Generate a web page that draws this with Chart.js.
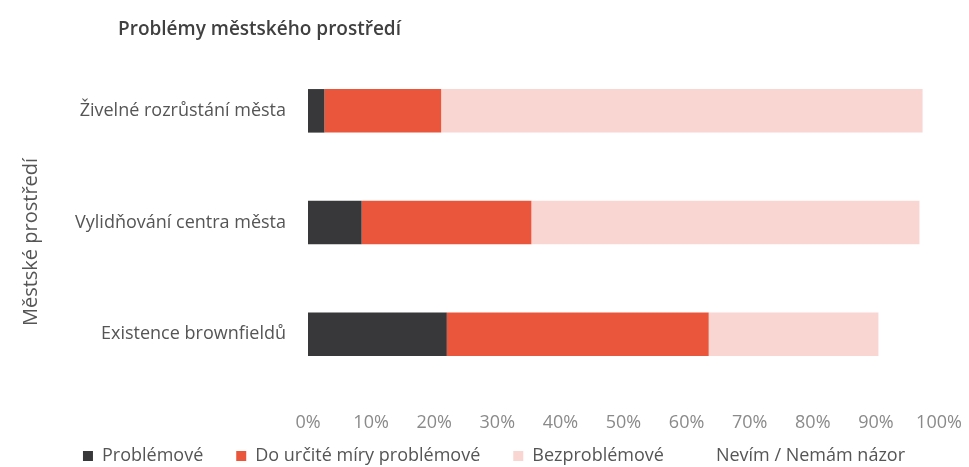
<!DOCTYPE html>
<html><head><meta charset="utf-8">
<script src="https://cdn.jsdelivr.net/npm/chart.js@4"></script>
<style>html,body{margin:0;padding:0;background:#fff}#wrap{width:969px;height:467px;position:relative}</style>
</head><body><div id="wrap"><canvas id="c"></canvas></div>
<script>
const chartTitle = 'Problémy městského prostředí';
const axisTitle = 'Městské prostředí';
const categories = ['Živelné rozrůstání města', 'Vylidňování centra města', 'Existence brownfieldů'];
const seriesNames = ['Problémové', 'Do určité míry problémové', 'Bezproblémové', 'Nevím / Nemám názor'];
const problemove = [2.6, 8.5, 22.0];
const doUrciteMiry = [18.5, 26.9, 41.5];
const bezproblemove = [76.3, 61.5, 26.9];
const nevim = [2.6, 3.1, 9.6];
const xTicks = [0, 10, 20, 30, 40, 50, 60, 70, 80, 90, 100];

const colors = ['#38383a', '#e9563b', '#f9d6d2', '#ffffff'];
const values = [problemove, doUrciteMiry, bezproblemove, nevim];

const textPlugin = {
  id: 'extraText',
  afterDraw(chart) {
    const ctx = chart.ctx;
    ctx.save();
    ctx.font = '600 19px "Open Sans"';
    ctx.fillStyle = '#404040';
    ctx.textBaseline = 'middle';
    ctx.textAlign = 'left';
    ctx.fillText(chartTitle, 118, 30);
    ctx.restore();
    ctx.save();
    ctx.translate(31, 242);
    ctx.rotate(-Math.PI / 2);
    ctx.font = '400 20px "Open Sans"';
    ctx.fillStyle = '#555555';
    ctx.textBaseline = 'middle';
    ctx.textAlign = 'center';
    ctx.fillText(axisTitle, 0, 0);
    ctx.restore();
  }
};

new Chart(document.getElementById('c'), {
  type: 'bar',
  data: {
    labels: categories,
    datasets: seriesNames.map((n, i) => ({
      label: n,
      data: values[i],
      backgroundColor: colors[i],
      borderWidth: 0,
      barPercentage: 0.39,
      categoryPercentage: 1
    }))
  },
  options: {
    indexAxis: 'y',
    responsive: true,
    maintainAspectRatio: false,
    animation: false,
    layout: { padding: { top: 55, right: 30, left: 49, bottom: -8 } },
    scales: {
      x: {
        stacked: true,
        min: 0, max: 100,
        afterBuildTicks: s => { s.ticks = xTicks.map(v => ({ value: v })); },
        afterFit: s => { s.height = 24; },
        grid: { display: false, drawTicks: false },
        border: { display: false },
        ticks: {
          mirror: true,
          padding: -44,
          color: '#8a8a8a',
          font: { family: 'Open Sans', size: 18 },
          callback: v => v + '%'
        }
      },
      y: {
        stacked: true,
        afterFit: s => { s.width = 259; },
        grid: { display: false, drawTicks: false },
        border: { display: false },
        ticks: {
          padding: 22,
          color: '#555555',
          font: { family: 'Open Sans', size: 18 }
        }
      }
    },
    plugins: {
      legend: {
        position: 'bottom',
        labels: {
          boxWidth: 10,
          boxHeight: 10,
          padding: 33,
          color: '#555555',
          font: { family: 'Open Sans', size: 18 }
        }
      },
      tooltip: { enabled: false }
    }
  },
  plugins: [textPlugin]
});
</script></body></html>
